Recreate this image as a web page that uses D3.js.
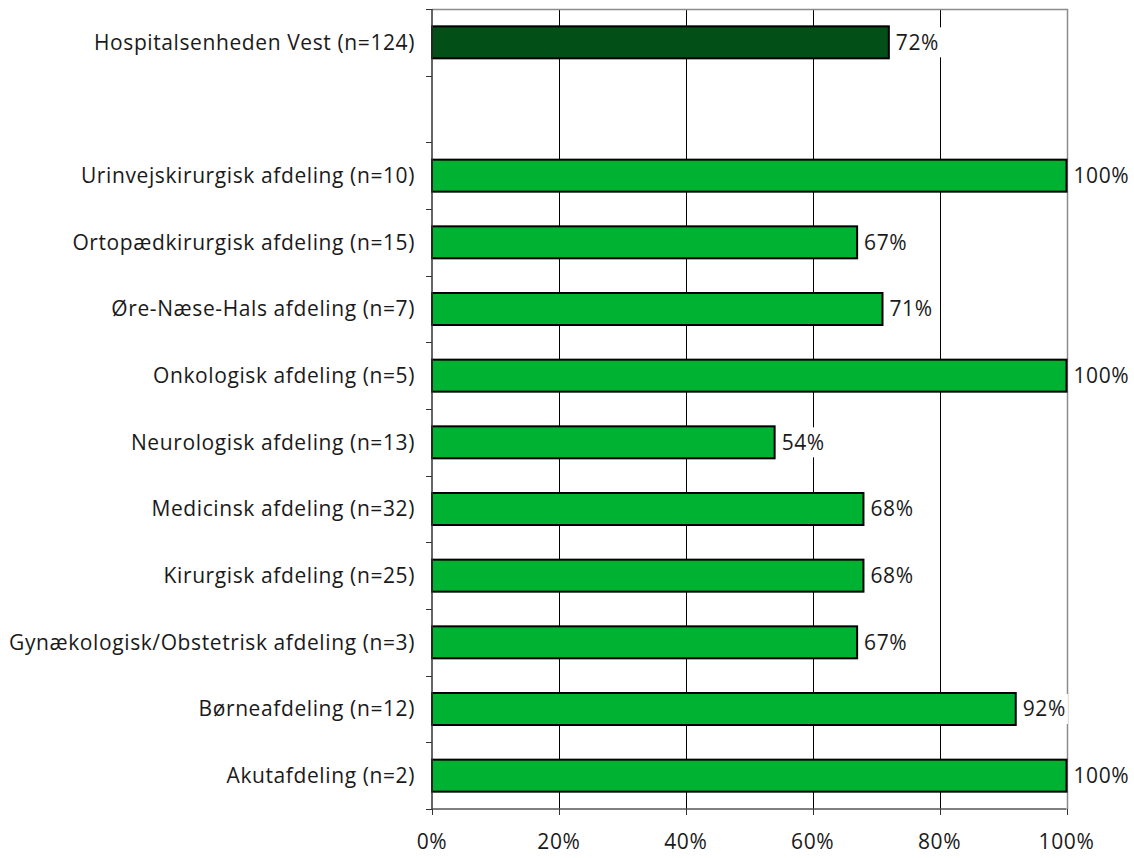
<!DOCTYPE html>
<html>
<head>
<meta charset="utf-8">
<script src="https://cdn.jsdelivr.net/npm/d3@7"></script>
<style>
  html, body { margin: 0; padding: 0; background: #fff; }
  svg { display: block; }
  text { font-family: "Open Sans", sans-serif; fill: #1a1a1a; font-size: 21px; letter-spacing: 0.6px; }
</style>
</head>
<body>
<svg id="chart" width="1134" height="858"></svg>
<script>
// Department names (top to bottom); the empty entry is a spacer row
const categories = [
  "Hospitalsenheden Vest (n=124)",
  "",
  "Urinvejskirurgisk afdeling (n=10)",
  "Ortopædkirurgisk afdeling (n=15)",
  "Øre-Næse-Hals afdeling (n=7)",
  "Onkologisk afdeling (n=5)",
  "Neurologisk afdeling (n=13)",
  "Medicinsk afdeling (n=32)",
  "Kirurgisk afdeling (n=25)",
  "Gynækologisk/Obstetrisk afdeling (n=3)",
  "Børneafdeling (n=12)",
  "Akutafdeling (n=2)"
];
// Share in percent; null for the spacer row
const values = [72, null, 100, 67, 71, 100, 54, 68, 68, 67, 92, 100];
const xTicks = [0, 20, 40, 60, 80, 100];

const svg = d3.select("#chart");
const m = { left: 432, right: 1066.5, top: 9, bottom: 809 };

const x = d3.scaleLinear().domain([0, 100]).range([m.left, m.right]);
const y = d3.scaleBand().domain(d3.range(categories.length))
  .range([m.top, m.bottom]).paddingInner(0.52).paddingOuter(0.26);
const slot = (m.bottom - m.top) / categories.length;

// vertical gridlines
svg.append("g").selectAll("line").data(xTicks.slice(1, -1)).join("line")
  .attr("x1", d => Math.round(x(d)) + 0.5).attr("x2", d => Math.round(x(d)) + 0.5)
  .attr("y1", m.top).attr("y2", m.bottom)
  .attr("stroke", "#000").attr("stroke-width", 1);

// top & right frame
svg.append("path")
  .attr("d", `M${m.left},${m.top + 0.5}H${Math.round(m.right) + 0.5}V${m.bottom}`)
  .attr("fill", "none").attr("stroke", "#8c8c8c").attr("stroke-width", 1.5);

// bars
svg.append("g").selectAll("rect").data(values.map((v, i) => ({ v, i })).filter(d => d.v !== null))
  .join("rect")
  .attr("x", x(0))
  .attr("y", d => y(d.i))
  .attr("width", d => x(d.v) - x(0))
  .attr("height", y.bandwidth())
  .attr("fill", d => d.i === 0 ? "#034f18" : "#00b232")
  .attr("stroke", "#000").attr("stroke-width", 2);

// left axis with ticks on slot boundaries
const gy = svg.append("g");
gy.append("line").attr("x1", m.left).attr("x2", m.left).attr("y1", m.top).attr("y2", m.bottom)
  .attr("stroke", "#333").attr("stroke-width", 1.5);
gy.selectAll("line.tick").data(d3.range(categories.length + 1)).join("line")
  .attr("class", "tick")
  .attr("x1", m.left - 6).attr("x2", m.left)
  .attr("y1", i => Math.round(m.top + i * slot) + 0.5).attr("y2", i => Math.round(m.top + i * slot) + 0.5)
  .attr("stroke", "#333").attr("stroke-width", 1);
gy.selectAll("text").data(categories.map((c, i) => ({ c, i })).filter(d => d.c)).join("text")
  .attr("x", m.left - 17)
  .attr("y", d => y(d.i) + y.bandwidth() / 2)
  .attr("dy", "0.35em")
  .attr("text-anchor", "end")
  .text(d => d.c);

// bottom axis
const gx = svg.append("g");
gx.append("line").attr("x1", m.left).attr("x2", m.right).attr("y1", m.bottom).attr("y2", m.bottom)
  .attr("stroke", "#555").attr("stroke-width", 1.5);
gx.selectAll("line.tick").data(xTicks).join("line")
  .attr("class", "tick")
  .attr("x1", d => Math.round(x(d)) + 0.5).attr("x2", d => Math.round(x(d)) + 0.5)
  .attr("y1", m.bottom).attr("y2", m.bottom + 6)
  .attr("stroke", "#333").attr("stroke-width", 1);
gx.selectAll("text").data(xTicks).join("text")
  .attr("x", d => x(d))
  .attr("y", m.bottom + 33)
  .attr("dy", "0.35em")
  .attr("text-anchor", "middle")
  .text(d => d + "%");

// value labels on white boxes
const lab = svg.append("g").selectAll("g").data(values.map((v, i) => ({ v, i })).filter(d => d.v !== null))
  .join("g")
  .attr("transform", d => `translate(${x(d.v) + 2},${y(d.i) + y.bandwidth() / 2})`);
lab.append("rect").attr("x", 0).attr("y", -15).attr("height", 30).attr("fill", "#fff");
lab.append("text").attr("x", 5).attr("dy", "0.35em").text(d => d.v + "%");
lab.each(function () {
  const t = d3.select(this).select("text").node();
  d3.select(this).select("rect").attr("width", t.getComputedTextLength() + 7);
});
</script>
</body>
</html>
